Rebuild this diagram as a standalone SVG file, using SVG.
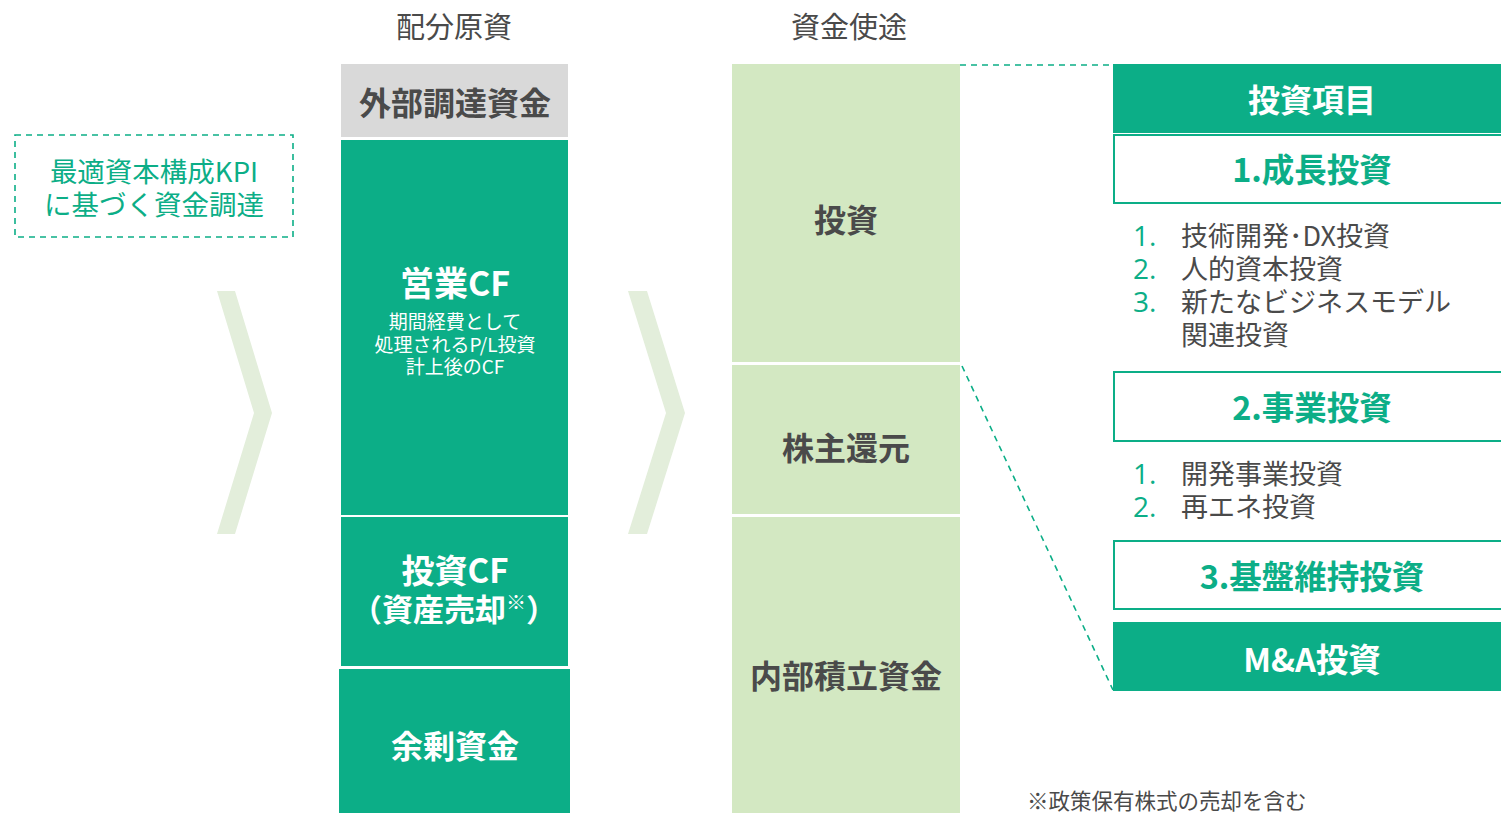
<svg xmlns="http://www.w3.org/2000/svg" width="1501" height="813" viewBox="0 0 1501 813">
<style>
text{font-family:"Noto Sans CJK JP","Noto Sans",sans-serif;text-anchor:middle}
.g{fill:#0cae87}
.lg{fill:#d3e8c2}
.chev{fill:#e3eedb}
.b{font-weight:bold}
.dk{fill:#4a4a4a}
.w{fill:#ffffff}
.gt{fill:#0cae87}
.box{fill:#ffffff;stroke:#0cae87;stroke-width:2}
.dash{fill:none;stroke:#0cae87;stroke-width:1.6;stroke-dasharray:6 5}
.li{text-anchor:start;font-size:27px}
.num{text-anchor:start;font-size:28px;font-family:"Open Sans","Noto Sans",sans-serif}
</style>
<rect width="1501" height="813" fill="#ffffff"/>
<text x="454" y="38" font-size="29" class="dk">配分原資</text>
<text x="849" y="38" font-size="29" class="dk">資金使途</text>
<g id="chevron1"><polygon class="chev" points="217,291 235,291 272,413 235,534 217,534 254,413"/></g>
<g id="chevron2"><polygon class="chev" points="628,291 647,291 685,413 647,534 628,534 666,413"/></g>
<g id="kpi">
<rect x="15" y="135" width="278" height="102" class="dash"/>
<text x="154" y="182" font-size="27.5" class="gt">最適資本構成KPI</text>
<text x="154" y="215" font-size="27.5" class="gt">に基づく資金調達</text>
</g>
<g id="external">
<rect x="341" y="64" width="227" height="73" fill="#d9d9d9"/>
<text x="455" y="115" font-size="32" class="b dk">外部調達資金</text>
</g>
<g id="opcf">
<rect x="341" y="140" width="227" height="375" class="g"/>
<text x="455" y="296" font-size="34" class="b w">営業CF</text>
<text x="455" y="329" font-size="19" class="w">期間経費として</text>
<text x="455" y="352" font-size="19" class="w">処理されるP/L投資</text>
<text x="455" y="374" font-size="19" class="w">計上後のCF</text>
</g>
<g id="invcf">
<rect x="341" y="517" width="227" height="149" class="g"/>
<text x="455" y="583" font-size="33" class="b w">投資CF</text>
<text x="454" y="621" font-size="31" class="b w">（資産売却<tspan font-size="20" dy="-11">※</tspan><tspan dy="11">）</tspan></text>
</g>
<g id="surplus">
<rect x="339" y="669" width="231" height="144" class="g"/>
<text x="455" y="758" font-size="32" class="b w">余剰資金</text>
</g>
<g id="invest">
<rect x="732" y="64" width="228" height="298" class="lg"/>
<text x="846" y="232" font-size="32" class="b dk">投資</text>
</g>
<g id="return">
<rect x="732" y="365" width="228" height="149" class="lg"/>
<text x="846" y="460" font-size="32" class="b dk">株主還元</text>
</g>
<g id="retained">
<rect x="732" y="517" width="228" height="296" class="lg"/>
<text x="846" y="688" font-size="32" class="b dk">内部積立資金</text>
</g>
<g id="connectors">
<line x1="960" y1="65" x2="1113" y2="65" class="dash"/>
<line x1="962" y1="366" x2="1113" y2="690" class="dash"/>
</g>
<g id="header">
<rect x="1113" y="64" width="390" height="69" class="g"/>
<text x="1312" y="112" font-size="32" class="b w">投資項目</text>
</g>
<g id="growth">
<rect x="1114" y="135" width="392" height="68" class="box"/>
<text x="1312" y="182" font-size="32.5" class="b gt">1.成長投資</text>
</g>
<g id="growth-list">
<text x="1133" y="246" class="num gt">1.</text><text x="1181" y="246" class="li dk">技術開発･DX投資</text>
<text x="1133" y="279" class="num gt">2.</text><text x="1181" y="279" class="li dk">人的資本投資</text>
<text x="1133" y="312" class="num gt">3.</text><text x="1181" y="312" class="li dk">新たなビジネスモデル</text>
<text x="1181" y="345" class="li dk">関連投資</text>
</g>
<g id="business">
<rect x="1114" y="372" width="392" height="69" class="box"/>
<text x="1312" y="420" font-size="32.5" class="b gt">2.事業投資</text>
</g>
<g id="business-list">
<text x="1133" y="484" class="num gt">1.</text><text x="1181" y="484" class="li dk">開発事業投資</text>
<text x="1133" y="517" class="num gt">2.</text><text x="1181" y="517" class="li dk">再エネ投資</text>
</g>
<g id="base">
<rect x="1114" y="541" width="392" height="68" class="box"/>
<text x="1312" y="589" font-size="32.5" class="b gt">3.基盤維持投資</text>
</g>
<g id="ma">
<rect x="1113" y="622" width="390" height="69" class="g"/>
<text x="1312" y="672" font-size="32.5" class="b w">M&amp;A投資</text>
</g>
<text x="1027" y="809" font-size="21.5" class="dk" style="text-anchor:start">※政策保有株式の売却を含む</text>
</svg>
